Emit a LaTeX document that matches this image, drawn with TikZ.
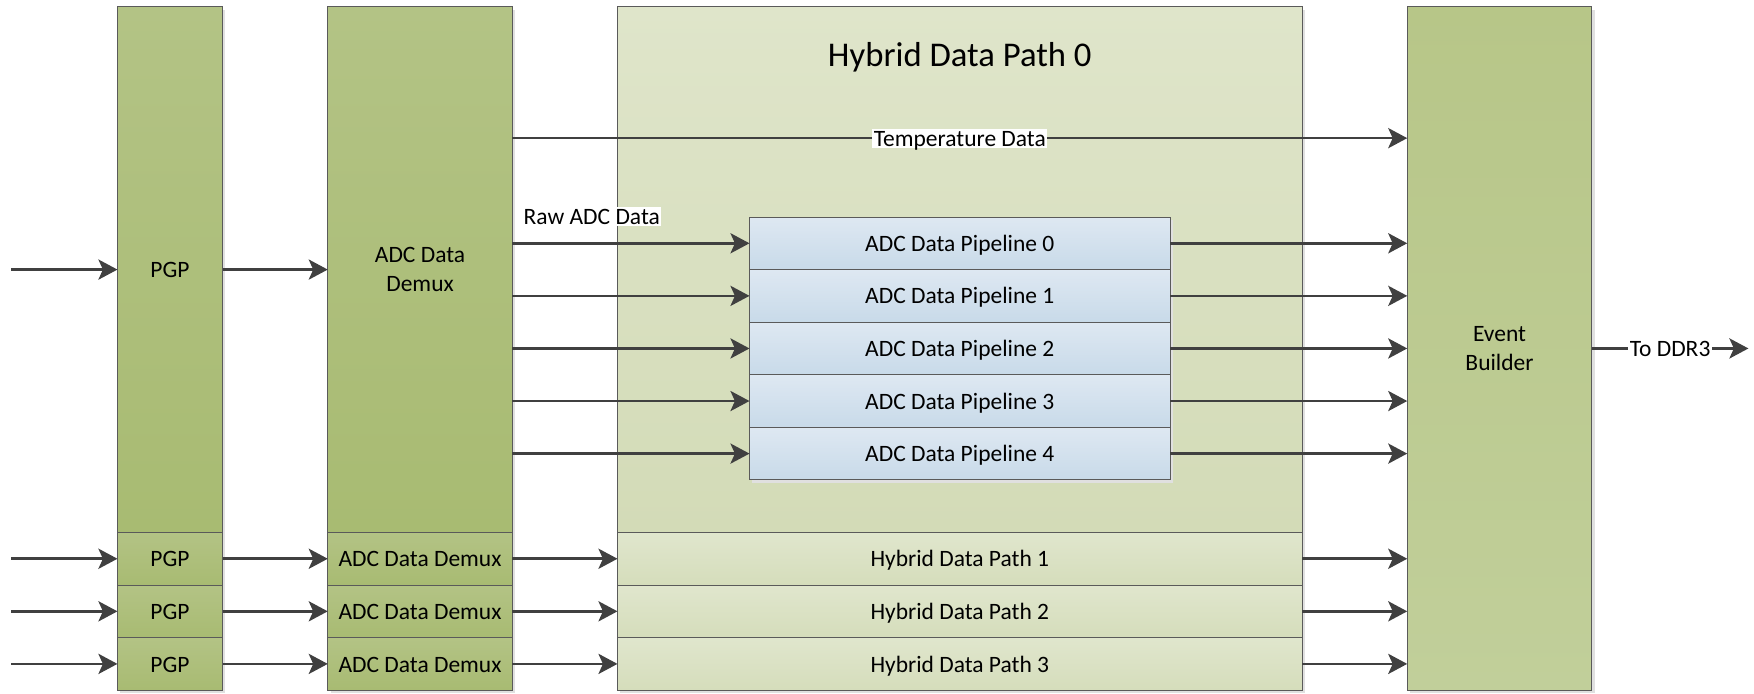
\documentclass[tikz,border=0pt]{standalone}
\usepackage{fontspec}
\setmainfont{Carlito}
\usetikzlibrary{arrows.meta,shadows}

\definecolor{boxline}{HTML}{5A5A5A}
\definecolor{arrowgray}{HTML}{404040}
\definecolor{dkTop}{HTML}{B3C385}
\definecolor{dkBot}{HTML}{A8BB72}
\definecolor{ebTop}{HTML}{B7C688}
\definecolor{ebBot}{HTML}{C1CF9A}
\definecolor{ltTop}{HTML}{DFE5CA}
\definecolor{ltBot}{HTML}{D3DBB7}
\definecolor{rowTop}{HTML}{E0E6CD}
\definecolor{rowBot}{HTML}{D5DDBB}
\definecolor{pipeTop}{HTML}{DEE8F2}
\definecolor{pipeBot}{HTML}{C8DAE9}

\begin{document}
\begin{tikzpicture}[x=1pt,y=-1pt,
  txt/.style={font=\fontsize{21}{25.5}\selectfont, text=black},
  box/.style={txt, draw=boxline, line width=0.9pt, inner sep=0pt, outer sep=0pt,
    general shadow={shadow xshift=2.5pt, shadow yshift=-2.5pt, fill=black!12}},
  oneline/.style={text height=14.5pt, text depth=0pt},
  twoline/.style={align=center},
  dark/.style={box, top color=dkTop, bottom color=dkBot},
  builder/.style={box, top color=ebTop, bottom color=ebBot},
  hybrid/.style={box, top color=ltTop, bottom color=ltBot},
  hybrow/.style={box, top color=rowTop, bottom color=rowBot},
  pipe/.style={box, top color=pipeTop, bottom color=pipeBot, oneline},
  arr/.style={draw=arrowgray, line width=2.3pt,
    -{Stealth[length=17pt, width=18pt, inset=4pt]}},
  lab/.style={txt, fill=white, inner sep=1.2pt, oneline}
]
\useasboundingbox (0,0) rectangle (1568,620);

% ---- main lane (hybrid 0) ----
\node[dark, oneline, minimum width=94pt, minimum height=470pt] (pgp0) at (152,241) {PGP};
\node[dark, twoline, minimum width=165pt, minimum height=470pt] (dmx0) at (375.5,241) {ADC Data\\Demux};
\node[hybrid, minimum width=612pt, minimum height=470pt] (hyb0) at (858,241) {};
\node[txt, font=\fontsize{31}{37}\selectfont, anchor=base] (hyb0title) at (858,59.6) {Hybrid Data Path 0};

% event builder spans all lanes
\node[builder, twoline, minimum width=165pt, minimum height=611pt] (eb) at (1340.5,311.5) {Event\\Builder};

% ADC data pipelines inside hybrid 0
\foreach \i/\y in {0/217.5, 1/264.5, 2/311.5, 3/358.5, 4/405.5}{
  \node[pipe, minimum width=376pt, minimum height=47pt] (pipe\i) at (858,\y) {ADC Data Pipeline \i};
}

% ---- lower lanes (hybrid 1..3) ----
\foreach \i/\y in {1/499.5, 2/546.5, 3/593.5}{
  \node[dark, oneline, minimum width=94pt, minimum height=47pt] (pgp\i) at (152,\y) {PGP};
  \node[dark, oneline, minimum width=165pt, minimum height=47pt] (dmx\i) at (375.5,\y) {ADC Data Demux};
  \node[hybrow, oneline, minimum width=612pt, minimum height=47pt] (hyb\i) at (858,\y) {Hybrid Data Path \i};
}

% ---- connectors ----
\coordinate (src0) at (10,241);
\draw[arr] (src0) -- (pgp0.west);
\draw[arr] (pgp0.east) -- (dmx0.west);

\coordinate (temp) at (458,123.5);
\draw[arr] (dmx0.east |- temp) -- node[lab] (templab) {Temperature Data} (eb.west |- temp);

\node[lab] (rawlab) at (529,193.5) {Raw ADC Data};
\foreach \i in {0,...,4}{
  \draw[arr] (dmx0.east |- pipe\i.west) -- (pipe\i.west);
  \draw[arr] (pipe\i.east) -- (eb.west |- pipe\i.east);
}

\foreach \i/\y in {1/499.5, 2/546.5, 3/593.5}{
  \coordinate (src\i) at (10,\y);
  \draw[arr] (src\i) -- (pgp\i.west);
  \draw[arr] (pgp\i.east) -- (dmx\i.west);
  \draw[arr] (dmx\i.east) -- (hyb\i.west);
  \draw[arr] (hyb\i.east) -- (eb.west |- hyb\i.east);
}

\coordinate (ddr) at (1563,311.5);
\draw[arr] (eb.east) -- node[lab] (ddrlab) {To DDR3} (ddr);
\end{tikzpicture}
\end{document}
